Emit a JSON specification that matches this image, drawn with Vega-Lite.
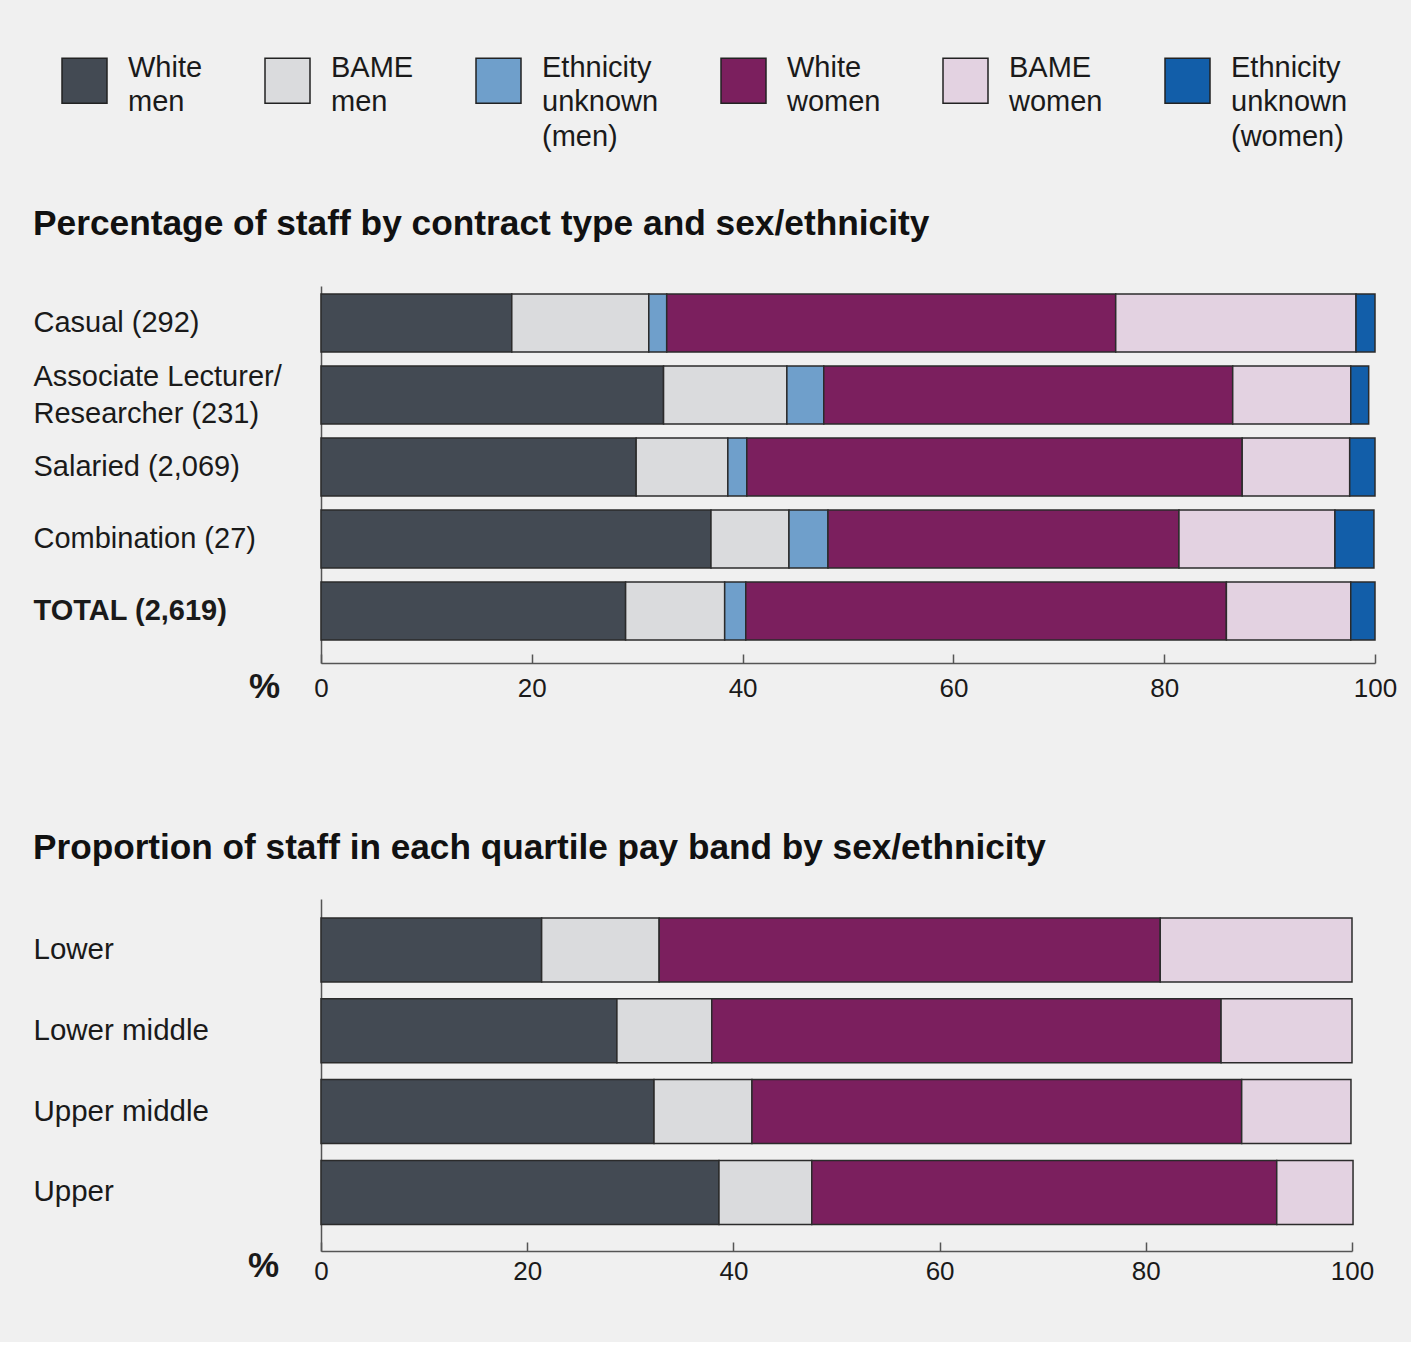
{
  "$schema": "https://vega.github.io/schema/vega-lite/v6.json",
  "background": "#f0f0f0",
  "padding": {"left": 33, "top": 57, "right": 14, "bottom": 58},
  "autosize": {"type": "pad"},
  "config": {
    "font": "Liberation Sans",
    "view": {"stroke": null},
    "axis": {"labelFont": "Liberation Sans", "labelColor": "#1a1a1a", "domainColor": "#555555", "domainWidth": 1.5, "tickColor": "#555555", "tickWidth": 1.5, "grid": false, "titleColor": "#1a1a1a"},
    "title": {"font": "Liberation Sans", "fontWeight": "bold", "color": "#111111", "anchor": "start"}
  },
  "datasets": {
    "contract": [
      {"cat": "Casual (292)", "g": "White men", "i": 1, "v": 18.1},
      {"cat": "Casual (292)", "g": "BAME men", "i": 2, "v": 13.0},
      {"cat": "Casual (292)", "g": "Ethnicity unknown (men)", "i": 3, "v": 1.7},
      {"cat": "Casual (292)", "g": "White women", "i": 4, "v": 42.6},
      {"cat": "Casual (292)", "g": "BAME women", "i": 5, "v": 22.8},
      {"cat": "Casual (292)", "g": "Ethnicity unknown (women)", "i": 6, "v": 1.8},
      {"cat": "Associate Lecturer/Researcher (231)", "g": "White men", "i": 1, "v": 32.5},
      {"cat": "Associate Lecturer/Researcher (231)", "g": "BAME men", "i": 2, "v": 11.7},
      {"cat": "Associate Lecturer/Researcher (231)", "g": "Ethnicity unknown (men)", "i": 3, "v": 3.5},
      {"cat": "Associate Lecturer/Researcher (231)", "g": "White women", "i": 4, "v": 38.8},
      {"cat": "Associate Lecturer/Researcher (231)", "g": "BAME women", "i": 5, "v": 11.2},
      {"cat": "Associate Lecturer/Researcher (231)", "g": "Ethnicity unknown (women)", "i": 6, "v": 1.7},
      {"cat": "Salaried (2,069)", "g": "White men", "i": 1, "v": 29.9},
      {"cat": "Salaried (2,069)", "g": "BAME men", "i": 2, "v": 8.7},
      {"cat": "Salaried (2,069)", "g": "Ethnicity unknown (men)", "i": 3, "v": 1.8},
      {"cat": "Salaried (2,069)", "g": "White women", "i": 4, "v": 47.0},
      {"cat": "Salaried (2,069)", "g": "BAME women", "i": 5, "v": 10.2},
      {"cat": "Salaried (2,069)", "g": "Ethnicity unknown (women)", "i": 6, "v": 2.4},
      {"cat": "Combination (27)", "g": "White men", "i": 1, "v": 37.0},
      {"cat": "Combination (27)", "g": "BAME men", "i": 2, "v": 7.4},
      {"cat": "Combination (27)", "g": "Ethnicity unknown (men)", "i": 3, "v": 3.7},
      {"cat": "Combination (27)", "g": "White women", "i": 4, "v": 33.3},
      {"cat": "Combination (27)", "g": "BAME women", "i": 5, "v": 14.8},
      {"cat": "Combination (27)", "g": "Ethnicity unknown (women)", "i": 6, "v": 3.7},
      {"cat": "TOTAL (2,619)", "g": "White men", "i": 1, "v": 28.9},
      {"cat": "TOTAL (2,619)", "g": "BAME men", "i": 2, "v": 9.4},
      {"cat": "TOTAL (2,619)", "g": "Ethnicity unknown (men)", "i": 3, "v": 2.0},
      {"cat": "TOTAL (2,619)", "g": "White women", "i": 4, "v": 45.6},
      {"cat": "TOTAL (2,619)", "g": "BAME women", "i": 5, "v": 11.8},
      {"cat": "TOTAL (2,619)", "g": "Ethnicity unknown (women)", "i": 6, "v": 2.3}
    ],
    "pay": [
      {"cat": "Lower", "g": "White men", "i": 1, "v": 21.4},
      {"cat": "Lower", "g": "BAME men", "i": 2, "v": 11.4},
      {"cat": "Lower", "g": "White women", "i": 4, "v": 48.6},
      {"cat": "Lower", "g": "BAME women", "i": 5, "v": 18.6},
      {"cat": "Lower middle", "g": "White men", "i": 1, "v": 28.7},
      {"cat": "Lower middle", "g": "BAME men", "i": 2, "v": 9.2},
      {"cat": "Lower middle", "g": "White women", "i": 4, "v": 49.4},
      {"cat": "Lower middle", "g": "BAME women", "i": 5, "v": 12.7},
      {"cat": "Upper middle", "g": "White men", "i": 1, "v": 32.3},
      {"cat": "Upper middle", "g": "BAME men", "i": 2, "v": 9.5},
      {"cat": "Upper middle", "g": "White women", "i": 4, "v": 47.5},
      {"cat": "Upper middle", "g": "BAME women", "i": 5, "v": 10.6},
      {"cat": "Upper", "g": "White men", "i": 1, "v": 38.6},
      {"cat": "Upper", "g": "BAME men", "i": 2, "v": 9.0},
      {"cat": "Upper", "g": "White women", "i": 4, "v": 45.1},
      {"cat": "Upper", "g": "BAME women", "i": 5, "v": 7.4}
    ]
  },
  "spacing": 126,
  "vconcat": [
    {
      "width": 1054,
      "height": 377,
      "data": {"name": "contract"},
      "title": {"text": "Percentage of staff by contract type and sex/ethnicity", "offset": 44, "fontSize": 35.3},
      "mark": {"type": "bar", "stroke": "#2b2b2b", "strokeWidth": 1.5},
      "encoding": {
        "y": {
          "field": "cat", "type": "nominal", "title": null,
          "sort": ["Casual (292)", "Associate Lecturer/Researcher (231)", "Salaried (2,069)", "Combination (27)", "TOTAL (2,619)"],
          "scale": {"paddingInner": 0.194, "paddingOuter": 0.215, "align": 0.258},
          "axis": {
            "ticks": false, "labelAlign": "left", "labelPadding": 288, "labelFontSize": 29, "labelLimit": 400, "labelLineHeight": 37,
            "labelExpr": "datum.label == 'Associate Lecturer/Researcher (231)' ? ['Associate Lecturer/', 'Researcher (231)'] : datum.label",
            "labelOffset": {"condition": {"test": "datum.value == 'Associate Lecturer/Researcher (231)'", "value": -18}, "value": 0},
            "labelFontWeight": {"condition": {"test": "datum.value == 'TOTAL (2,619)'", "value": "bold"}, "value": "normal"}
          }
        },
        "x": {
          "field": "v", "type": "quantitative", "stack": "zero",
          "scale": {"domain": [0, 100], "nice": false},
          "axis": {
            "values": [0, 20, 40, 60, 80, 100], "tickSize": -9, "labelPadding": 21, "labelFontSize": 26, "labelFlush": false,
            "title": "%", "titleFontSize": 35, "titleFontWeight": "bold", "titleX": -57, "titleY": 23, "titleAlign": "center", "titleBaseline": "middle", "titleAngle": 0
          }
        },
        "color": {
          "field": "g", "type": "nominal",
          "scale": {
            "domain": ["White men", "BAME men", "Ethnicity unknown (men)", "White women", "BAME women", "Ethnicity unknown (women)"],
            "range": ["#434a53", "#dadbdd", "#6f9fcb", "#7b1f5e", "#e3d2e1", "#125ea9"]
          },
          "legend": {
            "orient": "none", "legendX": -260, "legendY": -229,
            "direction": "horizontal", "columns": 6, "columnPadding": 59,
            "title": null, "symbolType": "square", "symbolSize": 2025,
            "symbolStrokeColor": "#222222", "symbolStrokeWidth": 1.5, "symbolOpacity": 1,
            "labelFontSize": 29, "labelFont": "Liberation Sans", "labelColor": "#1a1a1a",
            "labelOffset": 20, "labelLimit": 400,
            "labelExpr": "length(split(datum.label, ' ')) == 2 ? [split(datum.label, ' ')[0], split(datum.label, ' ')[1], ''] : split(datum.label, ' ')",
            "labelBaseline": "top", "gridAlign": "each",
            "encode": {"labels": {"update": {"lineHeight": {"value": 34.5}, "dy": {"value": -27}}}}
          }
        },
        "order": {"field": "i", "type": "quantitative"}
      }
    },
    {
      "width": 1031,
      "height": 352,
      "data": {"name": "pay"},
      "title": {"text": "Proportion of staff in each quartile pay band by sex/ethnicity", "offset": 33, "fontSize": 35.2},
      "mark": {"type": "bar", "stroke": "#2b2b2b", "strokeWidth": 1.5},
      "encoding": {
        "y": {
          "field": "cat", "type": "nominal", "title": null,
          "sort": ["Lower", "Lower middle", "Upper middle", "Upper"],
          "scale": {"paddingInner": 0.208, "paddingOuter": 0.282, "align": 0.417},
          "axis": {"ticks": false, "labelAlign": "left", "labelPadding": 288, "labelFontSize": 29.5, "labelLimit": 400}
        },
        "x": {
          "field": "v", "type": "quantitative", "stack": "zero",
          "scale": {"domain": [0, 100], "nice": false},
          "axis": {
            "values": [0, 20, 40, 60, 80, 100], "tickSize": -9, "labelPadding": 16, "labelFontSize": 26, "labelFlush": false,
            "title": "%", "titleFontSize": 35, "titleFontWeight": "bold", "titleX": -58, "titleY": 14, "titleAlign": "center", "titleBaseline": "middle", "titleAngle": 0
          }
        },
        "color": {
          "field": "g", "type": "nominal",
          "scale": {
            "domain": ["White men", "BAME men", "Ethnicity unknown (men)", "White women", "BAME women", "Ethnicity unknown (women)"],
            "range": ["#434a53", "#dadbdd", "#6f9fcb", "#7b1f5e", "#e3d2e1", "#125ea9"]
          },
          "legend": null
        },
        "order": {"field": "i", "type": "quantitative"}
      }
    }
  ]
}
